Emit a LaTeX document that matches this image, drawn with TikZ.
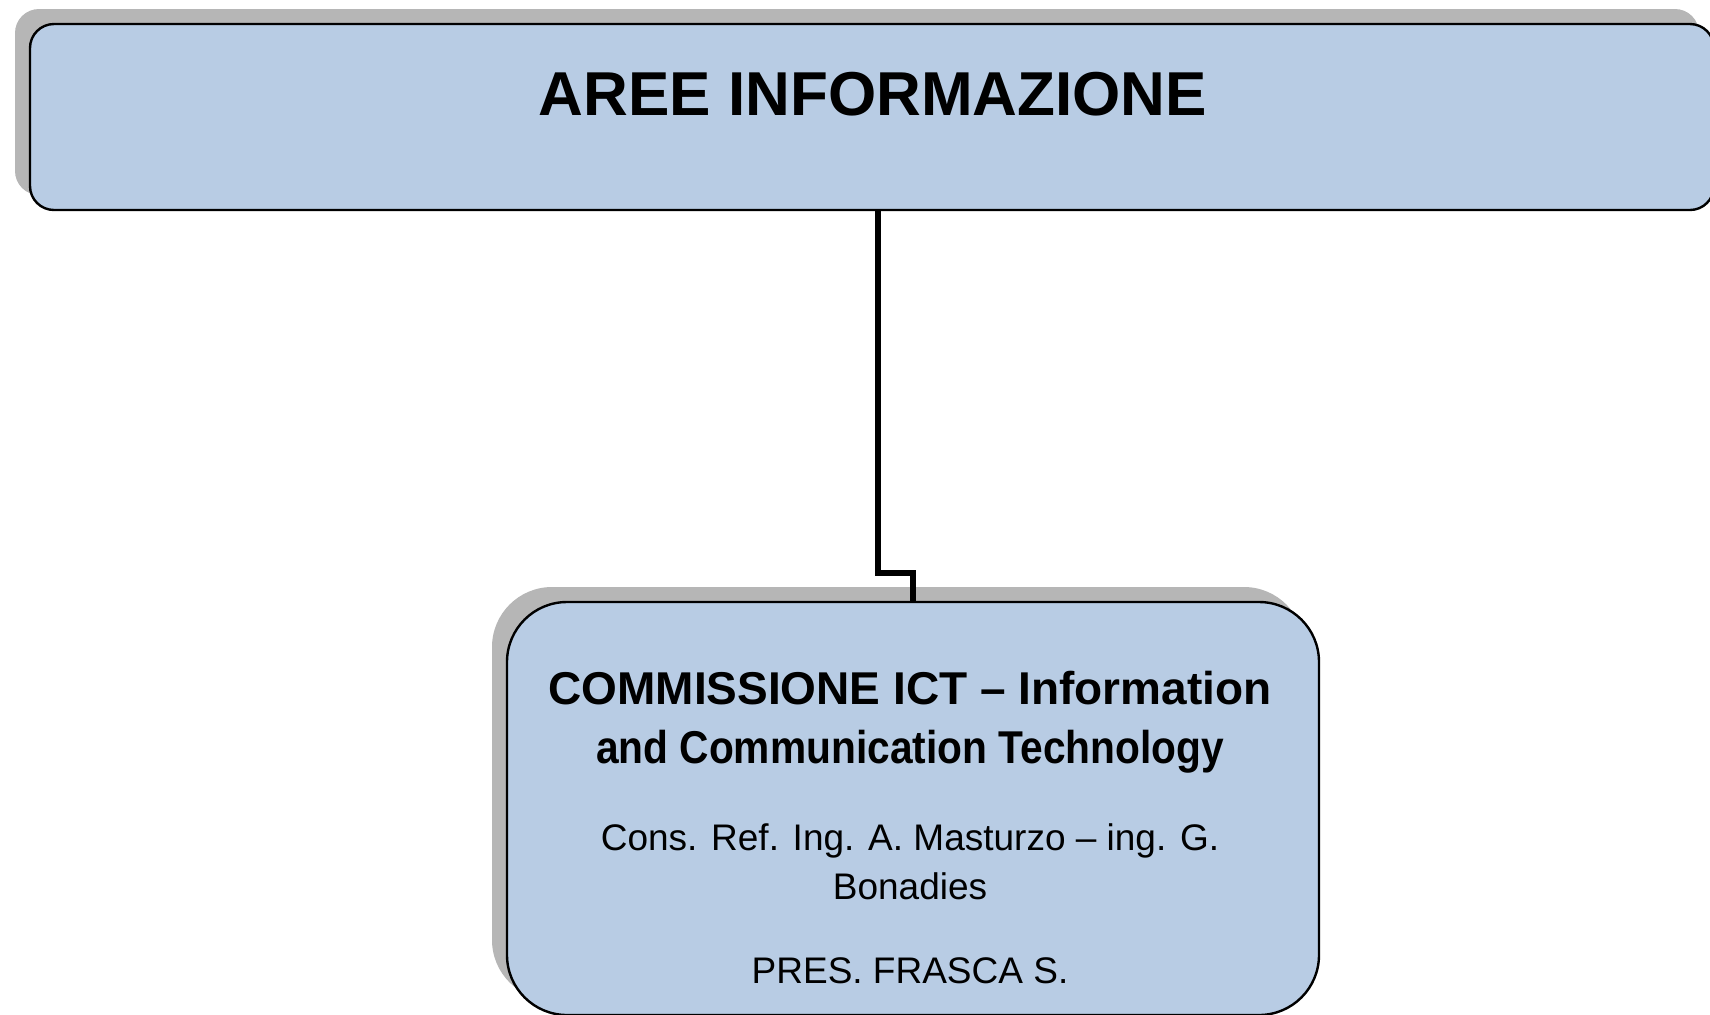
\documentclass[tikz,border=0pt]{standalone}
\usepackage{fontspec}
\setmainfont{Liberation Sans}
\usetikzlibrary{shadows}
\definecolor{boxblue}{RGB}{184,204,228}
\definecolor{shadowgray}{RGB}{182,182,182}
\begin{document}
\begin{tikzpicture}[x=0.5pt,y=-0.5pt,
  box/.style={draw=black, line width=1.2pt, fill=boxblue, rectangle, inner sep=0pt,
    drop shadow={shadow xshift=-7.5pt, shadow yshift=7.5pt, fill=shadowgray, opacity=1}},
  conn/.style={draw=black, line width=2.6pt},
  titletxt/.style={font=\fontsize{31}{36}\selectfont\bfseries, anchor=base, inner sep=0pt},
  boldtxt/.style={font=\fontsize{23}{28}\selectfont\bfseries, anchor=base, inner sep=0pt},
  regtxt/.style={font=\fontsize{18.5}{22}\selectfont, anchor=base, inner sep=0pt}]
\useasboundingbox (0,0) rectangle (1710,1014);
% top box
\node[box, rounded corners=12pt, minimum width=842pt, minimum height=93pt] (top) at (872,117) {};
\node[titletxt] (title) at (873,115.6) {AREE INFORMAZIONE};
% bottom box
\node[box, rounded corners=30pt, minimum width=406pt, minimum height=206.5pt] (bot) at (913,808.5) {};
\node[boldtxt] (l1) at (910,704.5) {COMMISSIONE ICT – Information};
\node[boldtxt] (l2) at (910,763.4) {\scalebox{0.885}[1]{and Communication Technology}};
\node[regtxt] (l3) at (910,850.7) {Cons. Ref. Ing. A. Masturzo – ing. G.};
\node[regtxt] (l4) at (910,899.7) {Bonadies};
\node[regtxt] (l5) at (910,983.7) {PRES. FRASCA S.};
% connector
\coordinate (k) at (878,573);
\draw[conn] ([xshift=3pt]top.south) -- (k) -| (bot.north);
\end{tikzpicture}
\end{document}
